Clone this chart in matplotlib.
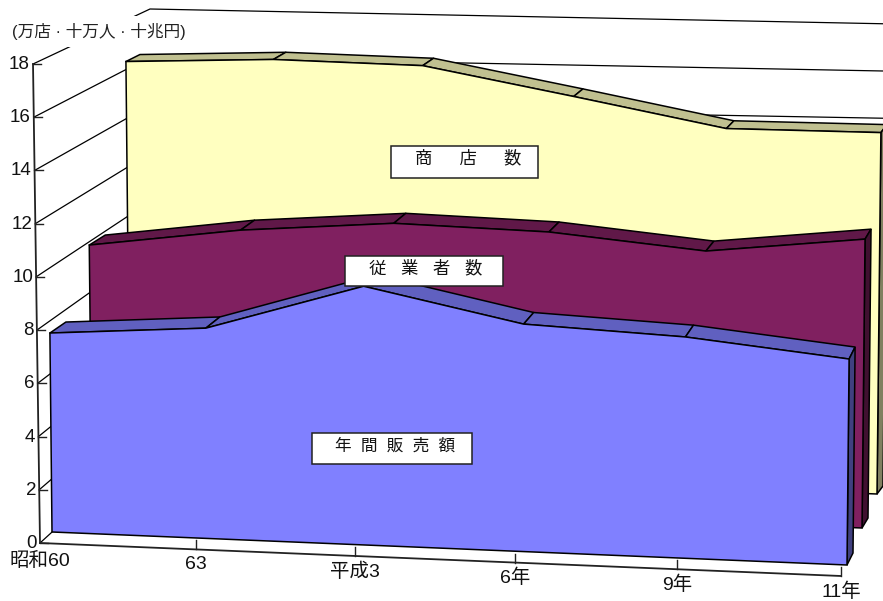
import numpy as np
import matplotlib
matplotlib.use("Agg")
import matplotlib.pyplot as plt
from matplotlib.patches import Polygon, Rectangle

plt.rcParams['font.family'] = ['Liberation Sans', 'Noto Sans CJK JP', 'DejaVu Sans']

# data
categories = ['昭和60', '63', '平成3', '6年', '9年', '11年']
stores = [16.28, 16.47, 16.33, 15.22, 14.08, 14.05]
workers = [9.88, 10.62, 11.04, 10.86, 10.29, 10.90]
sales = [7.54, 7.91, 9.66, 8.43, 8.14, 7.52]
y_ticks = [0, 2, 4, 6, 8, 10, 12, 14, 16, 18]
y_max = 18
unit_text = '(万店 · 十万人 · 十兆円)'


def frac(i, n=5, k=-0.03):
    # slight perspective along the category axis
    t = i / n
    return t * (1 + k) / (1 + k * t)


class Plane:
    # a vertical plane in the fake 3D box, given by its pixel corners
    def __init__(self, l0, r0, l18, r18):
        self.l0, self.r0, self.l18, self.r18 = map(np.array, (l0, r0, l18, r18))

    def at(self, t, v):
        base = self.l0 * (1 - t) + self.r0 * t
        top = self.l18 * (1 - t) + self.r18 * t
        return base + (top - base) * v / y_max


axis_plane = Plane((40, 543), (841, 576), (33, 64), (835, 81))
back_plane = Plane((152, 441), (895, 449), (150, 9), (895, 24))


def draw_series(ax, values, plane, off_l, off_r, front, top, side):
    n = len(values)
    off_l, off_r = np.array(off_l), np.array(off_r)
    ts = [frac(i) for i in range(n)]
    pts = [plane.at(t, v) for t, v in zip(ts, values)]
    offs = [off_l * (1 - t) + off_r * t for t in ts]
    lw = 1.1

    # top strip, one facet for each segment
    for i in range(n - 1):
        ax.add_patch(Polygon([pts[i], pts[i + 1], pts[i + 1] + offs[i + 1], pts[i] + offs[i]],
                             fc=top, ec='black', lw=lw, joinstyle='round', zorder=3))
    # right side
    b = plane.at(1, 0)
    ax.add_patch(Polygon([pts[-1], pts[-1] + offs[-1], b + offs[-1], b],
                         fc=side, ec='black', lw=lw, zorder=3))
    # front face
    outline = pts + [plane.at(1, 0), plane.at(0, 0)]
    ax.add_patch(Polygon(outline, fc=front, ec='black', lw=lw, zorder=3))


fig = plt.figure(figsize=(8.83, 6.01), dpi=100)
ax = fig.add_axes([0, 0, 1, 1])
ax.set_xlim(0, 883)
ax.set_ylim(601, 0)
ax.axis('off')

# walls: gridlines run along the left wall, then along the back wall
for v in y_ticks:
    a = axis_plane.at(0, v)
    b = back_plane.at(0, v)
    c = back_plane.at(1, v)
    ax.plot([a[0], b[0], c[0]], [a[1], b[1], c[1]], color='black', lw=0.9,
            solid_joinstyle='miter', zorder=1)
    ax.plot([a[0], a[0] + 8], [a[1], a[1]], color='#222222', lw=1.0, zorder=1)
    ax.text(a[0] - 3, a[1] + 0.5, str(v), ha='right', va='center', fontsize=13.5, color='#111111')

# y axis and x axis
p0 = axis_plane.at(0, 0)
p1 = axis_plane.at(0, y_max)
p2 = axis_plane.at(1, 0)
ax.plot([p0[0], p1[0]], [p0[1], p1[1]], color='#222222', lw=1.3, zorder=1)
ax.plot([p0[0], p2[0]], [p0[1], p2[1]], color='#222222', lw=1.3, zorder=1)

for i, lab in enumerate(categories):
    t = frac(i)
    p = axis_plane.at(t, 0)
    if i > 0:
        ax.plot([p[0], p[0]], [p[1], p[1] - 9], color='#222222', lw=1.0, zorder=1)
    ax.text(p[0], p[1] + (17.5 if i == 0 else 15.5), lab, ha='center', va='center', fontsize=14, color='#111111')

yellow_plane = Plane((130, 464), (877, 494), (125.5, 19), (882, 31))
maroon_plane = Plane((92, 497), (862, 528), (87, 38), (867, 51))
blue_plane = Plane((52, 532), (847, 565), (47, 57), (852, 72))

draw_series(ax, stores, yellow_plane, (14, -7), (6, -8), '#FFFFC0', '#C0C090', '#808060')
draw_series(ax, workers, maroon_plane, (16, -10), (6, -10), '#802060', '#601848', '#401030')
draw_series(ax, sales, blue_plane, (16, -11), (6, -12), '#8080FF', '#6060C0', '#404080')

# series labels
labels = [
    ('商\u3000  店\u3000  数', (391, 146, 147, 32), 468, 158, 12.5),
    ('従   業   者   数', (345, 256, 158, 30), 425.5, 268, 12.5),
    ('年  間  販  売  額', (312, 433, 160, 31), 395, 446, 12),
]
for txt, (x, y, w, h), cx, cy, size in labels:
    ax.add_patch(Rectangle((x, y), w, h, fc='white', ec='#222222', lw=1.1, zorder=5))
    ax.text(cx, cy, txt, ha='center', va='center', fontsize=size, color='#111111', zorder=6)

# white box so the wall line breaks behind the unit text, as in the original
ax.text(12, 31, unit_text, ha='left', va='center', fontsize=12, color='#222222', zorder=2,
        bbox=dict(fc='white', ec='none', pad=5))

fig.savefig('out.png', dpi=100)
